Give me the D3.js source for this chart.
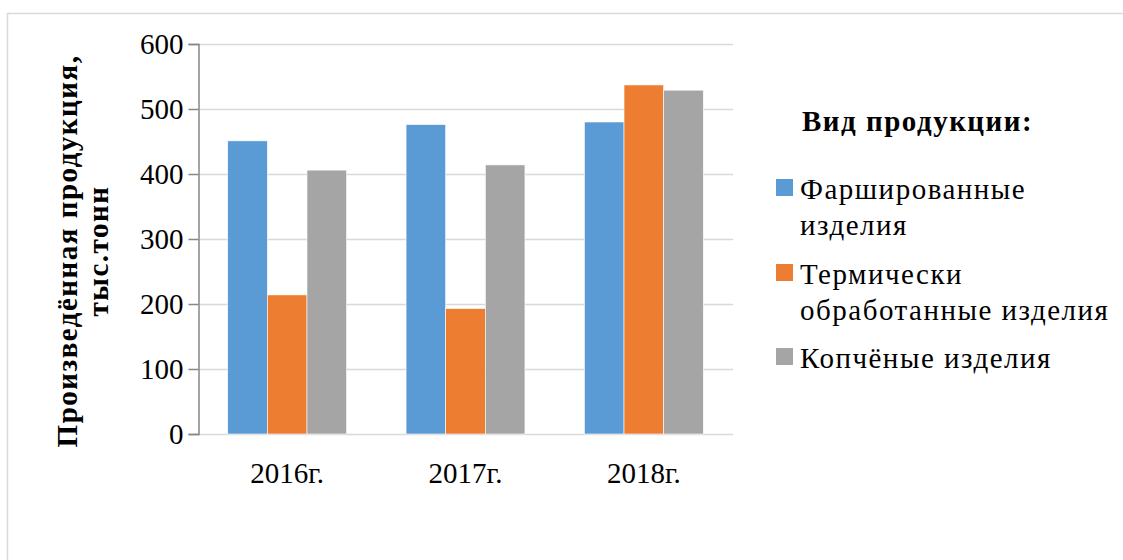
<!DOCTYPE html>
<html lang="ru">
<head>
<meta charset="UTF-8">
<title>Произведённая продукция</title>
<script src="https://d3js.org/d3.v7.min.js"></script>
<style>
    body { margin: 0; background: #fff; }
    svg text { font-family: "Liberation Serif", "DejaVu Serif", serif; fill: #000; }
    .wide { letter-spacing: 1.5px; }
</style>
</head>
<body>
<div id="chart"></div>
<script>
    const years = ["2016г.", "2017г.", "2018г."];
    const seriesNames = ["Фаршированные изделия", "Термически обработанные изделия", "Копчёные изделия"];
    const legendLines = [["Фаршированные", "изделия"], ["Термически", "обработанные изделия"], ["Копчёные изделия"]];
    const stuffed = [451, 476, 480];
    const thermal = [214, 193, 537];
    const smoked = [406, 414, 529];
    const yTicks = [0, 100, 200, 300, 400, 500, 600];
    const colors = ["#5b9bd5", "#ed7d31", "#a5a5a5"];

    const values = [stuffed, thermal, smoked];
    const W = 1123, H = 560;
    const plotLeft = 198, plotRight = 733, plotTop = 44, plotBottom = 434;
    const fs = 29;

    const svg = d3.select("#chart").append("svg")
        .attr("width", W).attr("height", H);

    // outer frame
    svg.append("path")
        .attr("d", `M7.5,${H} V13.5 H${W}`)
        .attr("fill", "none").attr("stroke", "#d9d9d9").attr("stroke-width", 1.5);

    const x = d3.scaleBand().domain(years).range([plotLeft, plotRight])
        .paddingInner(1 / 3).paddingOuter(1 / 6);
    const xs = d3.scaleBand().domain(seriesNames).range([0, x.bandwidth()]);
    const y = d3.scaleLinear().domain([0, 600]).range([plotBottom, plotTop]);

    // gridlines
    svg.append("g").selectAll("line").data(yTicks).join("line")
        .attr("x1", plotLeft).attr("x2", plotRight)
        .attr("y1", d => y(d) + 0.5).attr("y2", d => y(d) + 0.5)
        .attr("stroke", "#d9d9d9").attr("stroke-width", 1.5);

    // bars
    seriesNames.forEach((name, i) => {
        svg.append("g").selectAll("rect").data(values[i]).join("rect")
            .attr("x", (d, j) => x(years[j]) + xs(name))
            .attr("y", d => y(d))
            .attr("width", xs.bandwidth())
            .attr("height", d => plotBottom - y(d))
            .attr("fill", colors[i])
            .attr("stroke", "#fff").attr("stroke-width", 0.6);
    });

    // y axis
    const yAxis = svg.append("g")
        .attr("transform", `translate(${plotLeft + 0.5},0)`)
        .call(d3.axisLeft(y).tickValues(yTicks).tickSize(10).tickPadding(5));
    yAxis.attr("font-family", null);
    yAxis.select(".domain").attr("stroke", "#868686").attr("stroke-width", 1.5);
    yAxis.selectAll(".tick line").attr("stroke", "#868686").attr("stroke-width", 1.5);
    yAxis.selectAll(".tick text").attr("font-size", fs).attr("fill", "#000");

    // x labels
    svg.append("g").selectAll("text").data(years).join("text")
        .attr("x", d => x(d) + x.bandwidth() / 2)
        .attr("y", 483)
        .attr("text-anchor", "middle")
        .attr("font-size", fs)
        .text(d => d);

    // y title
    const yt = svg.append("text")
        .attr("class", "wide")
        .attr("transform", "translate(0,251) rotate(-90)")
        .attr("text-anchor", "middle")
        .attr("font-size", fs).attr("font-weight", "bold");
    yt.append("tspan").attr("x", 0).attr("y", 77).text("Произведённая продукция,");
    yt.append("tspan").attr("x", 0).attr("y", 108).text("тыс.тонн");

    // legend
    svg.append("text")
        .attr("class", "wide")
        .attr("x", 802).attr("y", 131)
        .attr("font-size", fs).attr("font-weight", "bold")
        .text("Вид продукции:");

    const firstBase = [199, 284, 368];
    legendLines.forEach((lines, i) => {
        svg.append("rect")
            .attr("x", 776).attr("y", firstBase[i] - 20)
            .attr("width", 17).attr("height", 17)
            .attr("fill", colors[i]);
        const t = svg.append("text").attr("class", "wide").attr("font-size", fs);
        lines.forEach((ln, k) => {
            t.append("tspan").attr("x", 800).attr("y", firstBase[i] + k * 36).text(ln);
        });
    });
</script>
</body>
</html>
